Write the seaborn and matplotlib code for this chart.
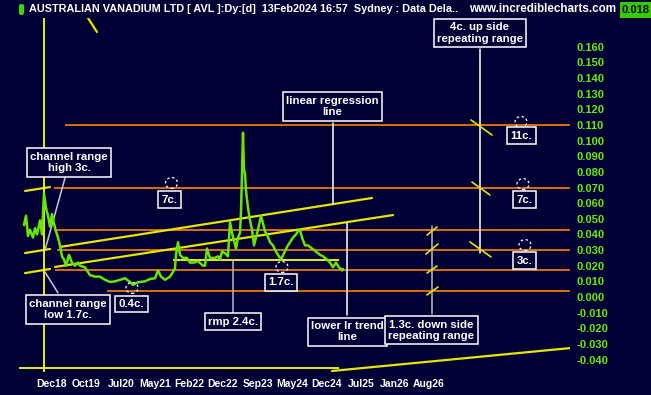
import matplotlib
matplotlib.use("Agg")
import matplotlib.pyplot as plt
import seaborn as sns
import pandas as pd
from matplotlib.patches import Ellipse, FancyBboxPatch
from matplotlib import font_manager

# ---------------- data ----------------
tick_labels = ['Dec18', 'Oct19', 'Jul20', 'May21', 'Feb22', 'Dec22', 'Sep23',
               'May24', 'Dec24', 'Jul25', 'Jan26', 'Aug26']
tick_bars = [0, 34, 69, 103, 137, 171, 206, 240, 274, 309, 343, 377]

price_bar = [-28, -26, -24, -22, -19, -17, -15, -12, -10, -8,
             -6, -4, -2, 0, 2, 4, 6, 8, 10, 12,
             14, 17, 20, 23, 26, 28, 33, 36, 38, 43,
             48, 53, 58, 63, 68, 73, 78, 81, 84, 88,
             93, 98, 103, 106, 109, 113, 118, 121, 123, 124,
             126, 128, 131, 135, 138, 142, 146, 151, 153, 155,
             158, 163, 166, 168, 170, 173, 176, 178, 180, 182,
             184, 186, 188, 189, 190, 191, 192, 193, 194, 196,
             198, 200, 202, 204, 206, 209, 211, 213, 215, 218,
             221, 224, 227, 229, 232, 235, 238, 241, 244, 246,
             248, 250, 253, 256, 260, 264, 268, 271, 275, 278,
             281, 284, 287, 290, 291]
price_val = [0.046, 0.052, 0.039, 0.043, 0.038, 0.044, 0.040, 0.049, 0.040, 0.066,
             0.057, 0.052, 0.045, 0.053, 0.047, 0.042, 0.038, 0.033, 0.026, 0.024,
             0.020, 0.027, 0.022, 0.020, 0.022, 0.020, 0.019, 0.016, 0.014, 0.013,
             0.013, 0.011, 0.0096, 0.010, 0.011, 0.012, 0.0096, 0.0077, 0.009, 0.0096,
             0.010, 0.0115, 0.012, 0.017, 0.013, 0.011, 0.013, 0.016, 0.0185, 0.027,
             0.035, 0.027, 0.025, 0.025, 0.022, 0.022, 0.023, 0.020, 0.020, 0.031,
             0.025, 0.025, 0.026, 0.024, 0.029, 0.028, 0.026, 0.048, 0.041, 0.036,
             0.031, 0.038, 0.041, 0.054, 0.079, 0.105, 0.081, 0.079, 0.068, 0.057,
             0.049, 0.043, 0.033, 0.038, 0.043, 0.052, 0.047, 0.042, 0.040, 0.035,
             0.033, 0.029, 0.026, 0.024, 0.028, 0.032, 0.035, 0.038, 0.040, 0.042,
             0.043, 0.038, 0.033, 0.033, 0.031, 0.029, 0.027, 0.026, 0.024, 0.022,
             0.019, 0.022, 0.019, 0.017, 0.018]

y_ticks = [-0.04, -0.03, -0.02, -0.01, 0.0, 0.01, 0.02, 0.03, 0.04, 0.05, 0.06,
           0.07, 0.08, 0.09, 0.10, 0.11, 0.12, 0.13, 0.14, 0.15, 0.16]

# horizontal support/resistance levels (orange): value, first bar
level_vals = [0.110, 0.070, 0.043, 0.030, 0.017, 0.004]
level_start = [13, 2, 2, 5, 3, 55]

# yellow trend / channel lines: (bar0, val0, bar1, val1)
channel_lines = [(8, 0.0320, 320, 0.0633),
                 (3, 0.0192, 341, 0.0524),
                 (-27, 0.0678, -2, 0.0703),
                 (-27, 0.0281, -2, 0.0307),
                 (-27, 0.0153, -2, 0.0179),
                 (280, -0.0473, 519, -0.0326),
                 (36, 0.1784, 45, 0.1694)]
rmp_level = 0.0237
rmp_span = (121, 287)
base_level = -0.0454
base_span = (-33, 287)
marker_bar = -8
marker_span = (-0.048, 0.1784)

# small yellow cross ticks
cross_ticks = [(419, 0.1132, 440, 0.1036), (420, 0.0735, 438, 0.0652),
               (418, 0.0352, 439, 0.0256),
               (375, 0.0396, 385, 0.0448), (374, 0.0275, 386, 0.0339),
               (375, 0.0153, 385, 0.0198), (375, 0.0013, 386, 0.0064)]

# connector lines (bar0, val0, bar1, val1, colour)
connectors = [(281, 0.1113, 281, 0.0595, 'white'),
              (295, 0.0473, 295, -0.0115, 'white'),
              (181, 0.0237, 181, -0.0102, '#b8b8c8'),
              (380, 0.0454, 380, -0.0109, '#b8b8c8'),
              (428, 0.1586, 428, 0.0281, 'white'),
              (13, 0.0761, -7, 0.0300, '#c8c8d8'),
              (-7, 0.0160, 6, 0.0026, '#c8c8d8')]

# annotation boxes: text, bar, value
notes = [("channel range\nhigh 3c.", 17, 0.0860),
         ("channel range\nlow 1.7c.", 16, -0.0080),
         ("7c.", 117.5, 0.0623),
         ("0.4c.", 79.5, -0.0045),
         ("rmp 2.4c.", 181, -0.0157),
         ("1.7c.", 229, 0.0093),
         ("linear regression\nline", 280.5, 0.1218),
         ("lower lr trend\nline", 295.5, -0.0221),
         ("1.3c. down side\nrepeating range", 379.5, -0.0214),
         ("4c. up side\nrepeating range", 428, 0.1688),
         ("11c.", 469.5, 0.1030),
         ("7c.", 472.5, 0.0623),
         ("3c.", 472.5, 0.0233)]
# small dashed circles above the value labels
circles = [(119.5, 0.0729), (80, 0.0058), (230, 0.0192),
           (469, 0.1119), (471, 0.0722), (473, 0.0332)]

title = "AUSTRALIAN VANADIUM LTD [ AVL ]:Dy:[d]  13Feb2024 16:57  Sydney : Data Dela.."
site = "www.incrediblecharts.com"
last_price = "0.018"

# ---------------- style ----------------
BG = '#000035'
GREEN_TXT = '#66ee00'
LINE_GREEN = '#66e600'
ORANGE = '#ff8000'
YELLOW = '#e6e600'

sns.set_theme(style="dark")
sns.set_style({"axes.facecolor": BG, "figure.facecolor": BG})
plt.rcParams['font.family'] = ['Liberation Sans', 'DejaVu Sans']

narrow = 'Liberation Sans'
try:
    font_manager.findfont('Liberation Sans Narrow', fallback_to_default=False)
    narrow = 'Liberation Sans Narrow'
except Exception:
    pass

fig = plt.figure(figsize=(6.51, 3.95), dpi=100, facecolor=BG)
ax = fig.add_axes([0, 20 / 395, 570 / 651, 357 / 395])
ax.set_facecolor(BG)

df = pd.DataFrame({'bar': price_bar, 'price': price_val})

# orange levels
for v, s in zip(level_vals, level_start):
    ax.hlines(v, s, 518, color=ORANGE, lw=1.2, zorder=2)

# channel lines
for b0, v0, b1, v1 in channel_lines:
    ax.plot([b0, b1], [v0, v1], color=YELLOW, lw=1.6, zorder=3)
ax.hlines(rmp_level, *rmp_span, color='#ffff00', lw=1.3, zorder=3)
ax.hlines(base_level, *base_span, color='#ffff00', lw=1.3, zorder=3)
ax.vlines(marker_bar, *marker_span, color='#ffff00', lw=1.3, zorder=3)
for b0, v0, b1, v1 in cross_ticks:
    ax.plot([b0, b1], [v0, v1], color=YELLOW, lw=1.2, zorder=5)
for b0, v0, b1, v1, c in connectors:
    ax.plot([b0, b1], [v0, v1], color=c, lw=1.1, zorder=4)

sns.lineplot(data=df, x='bar', y='price', ax=ax, color=LINE_GREEN, lw=1.8,
             estimator=None, sort=False, zorder=6)

for txt, b, v in notes:
    ax.text(b, v, txt, ha='center', va='center', color='white',
            fontsize=8.2, fontweight='bold', linespacing=1.15, zorder=8,
            bbox=dict(boxstyle='square,pad=0.3', fc=BG, ec='white', lw=1.1))

for b, v in circles:
    ax.add_patch(Ellipse((b, v), 12, 0.0070, fill=False, ec='white',
                         lw=0.9, ls=(0, (2, 2)), zorder=7))

ax.set_xlim(-52, 518)
ax.set_ylim(-0.04987, 0.17839)
ax.set_xticks(tick_bars)
ax.set_xticklabels(tick_labels)
ax.set_yticks(y_ticks)
ax.set_yticklabels([f"{t:.3f}" for t in y_ticks])
ax.yaxis.tick_right()
ax.tick_params(axis='y', length=0, pad=5, labelcolor=GREEN_TXT, labelsize=8)
ax.tick_params(axis='x', length=0, pad=3, labelcolor='white', labelsize=7.5)
for lab in ax.get_yticklabels():
    lab.set_fontweight('bold')
    lab.set_horizontalalignment('left')
for lab in ax.get_xticklabels():
    lab.set_fontweight('bold')
    lab.set_family(narrow)
ax.grid(False)
for sp in ax.spines.values():
    sp.set_visible(False)
ax.set_xlabel('')
ax.set_ylabel('')

# header
fig.patches.append(FancyBboxPatch((19 / 651, 1 - 15 / 395), 5 / 651, 11 / 395,
                                  boxstyle='round,pad=0,rounding_size=0.004',
                                  transform=fig.transFigure, fc='#33dd00',
                                  ec='none'))
fig.text(29 / 651, 1 - 9.5 / 395, title, color='white', fontsize=7.8,
         fontweight='bold', family='Liberation Sans', va='center', ha='left')
fig.text(616 / 651, 1 - 9.5 / 395, site, color='white', fontsize=8.4,
         fontweight='bold', family='Liberation Sans', va='center', ha='right')
fig.patches.append(FancyBboxPatch((620 / 651, 1 - 18 / 395), 31 / 651, 16 / 395,
                                  boxstyle='square,pad=0',
                                  transform=fig.transFigure, fc='#33cc00',
                                  ec='none'))
fig.text(635.5 / 651, 1 - 10 / 395, last_price, color='black', fontsize=8,
         fontweight='bold', va='center', ha='center')

fig.savefig('out.png', dpi=100, facecolor=BG)
